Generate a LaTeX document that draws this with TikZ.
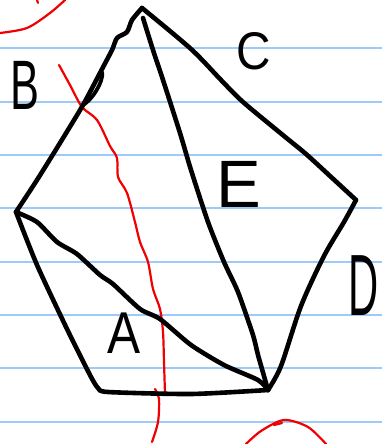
\documentclass[tikz,border=0pt]{standalone}
\usepackage{fontspec}
\setsansfont{Liberation Sans}
\definecolor{ruleblue}{RGB}{158,202,250}
\definecolor{inkred}{RGB}{240,0,0}
\begin{document}
\begin{tikzpicture}[x=1pt,y=-1pt,
  edge/.style={line width=4.6pt, line cap=round, line join=round, black},
  redink/.style={line width=2.2pt, inkred, line cap=round, line join=round},
  ruled/.style={line width=2.2pt, ruleblue},
  lab/.style={font=\sffamily, inner sep=0pt, transform shape}]
\useasboundingbox (0,0) rectangle (382,444);
\fill[white] (0,0) rectangle (382,444);
% ruled paper
\foreach \yy in {48.3,101.7,155,208.3,261.7,315,368.3,421.7}
  \draw[ruled] (0,\yy) -- (382,\yy);
% vertices
\coordinate (T) at (142,8);
\coordinate (L) at (16,212);
\coordinate (BL) at (98,388);
\coordinate (BR) at (268,390);
\coordinate (R) at (356,200);
\coordinate (K1) at (101,71);
\coordinate (K2) at (83,105);
% red strokes
\draw[redink] plot[smooth] coordinates {(0,33) (27,28) (50,13) (65,0)};
\draw[redink] (37,0) -- (38,3);
\draw[redink] plot[smooth] coordinates {(59,65) (70,85) (82,107) (97,120) (110,146) (117,158) (118,177) (127,193) (135,222) (140,242) (148,262) (153,289) (160,309) (163,332) (164,362) (165,394)};
\draw[redink] plot[smooth] coordinates {(155,389) (159,399) (158,422) (152,442)};
\draw[redink] plot[smooth] coordinates {(246,444) (261,431) (284,420) (308,427) (326,444)};
\draw[redink] (274,425) -- (282,423);
% polygon edges
\draw[edge] plot[smooth, tension=0.4] coordinates {(T) (132,20) (127,32) (117,38) (112,50) (K1) (K2) (60,143) (37,180) (L)};
\draw[edge, line width=3.8pt] (K1) .. controls (106,74) and (96,97) .. (K2);
\draw[edge] plot[smooth, tension=0.4] coordinates {(L) (37,265) (67,329) (90,375) (BL) (108,392) (191,394) (BR)};
\draw[edge] plot[smooth, tension=0.5] coordinates {(T) (191,49) (221,80) (243,102) (284,136) (306,154) (330,176) (R)};
\draw[edge] plot[smooth, tension=0.5] coordinates {(R) (344,222) (324,256) (301,306) (281,366) (BR)};
% diagonals
\draw[edge] plot[smooth, tension=0.4] coordinates {(143,18) (153,50) (163,80) (180,133) (191,170) (208,222) (224,262) (238,292) (253,335) (258,355) (BR)};
\draw[edge] plot[smooth, tension=0.4] coordinates {(L) (37,222) (57,242) (77,254) (100,275) (113,284) (140,309) (160,319) (191,345) (224,365) (258,380) (BR)};
% labels
\node[lab, font=\sffamily\fontsize{70}{70}\selectfont, xscale=0.62] (lB) at (25,85) {B};
\node[lab, font=\sffamily\fontsize{53}{53}\selectfont, xscale=0.9] (lC) at (254,51) {C};
\node[lab, font=\sffamily\fontsize{67}{67}\selectfont, xscale=1.0] (lE) at (239,184) {E};
\node[lab, font=\sffamily\fontsize{87}{87}\selectfont, xscale=0.48] (lD) at (364,286) {D};
\node[lab, font=\sffamily\fontsize{59}{59}\selectfont, xscale=0.84] (lA) at (124,333) {A};
\end{tikzpicture}
\end{document}
